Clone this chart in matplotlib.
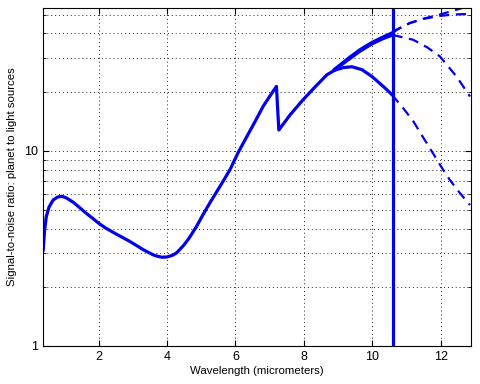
import numpy as np
import matplotlib
matplotlib.use("Agg")
import matplotlib.pyplot as plt
from matplotlib.ticker import LogLocator, NullFormatter, FixedLocator

# shared part of the curve (solid)
wl_main = [0.38, 0.42, 0.47, 0.55, 0.67, 0.8, 0.92, 1.05, 1.26, 1.4, 1.6, 1.8,
           2.0, 2.2, 2.5, 2.7, 2.92, 3.1, 3.3, 3.45, 3.6, 3.7, 3.85, 4.0, 4.15,
           4.28, 4.5, 4.65, 4.86, 5.05, 5.25, 5.6, 5.84, 6.08, 6.33, 6.6, 6.81,
           7.0, 7.2, 7.27, 7.6, 7.98, 8.3, 8.67, 8.9]
snr_main = [3.1, 3.9, 4.6, 5.15, 5.6, 5.8, 5.85, 5.75, 5.45, 5.2, 4.85, 4.55,
            4.26, 4.03, 3.76, 3.6, 3.43, 3.28, 3.12, 3.02, 2.93, 2.89, 2.85, 2.86,
            2.91, 3.0, 3.3, 3.58, 4.09, 4.7, 5.4, 6.8, 8.0, 9.8, 11.8, 14.4, 16.9,
            19.0, 21.4, 12.8, 15.3, 18.3, 21.0, 24.5, 25.9]

# lower branch, solid up to the laser line then dashed
wl_low = [8.9, 9.15, 9.4, 9.7, 10.0, 10.22, 10.4, 10.58]
snr_low = [25.9, 26.7, 27.0, 26.1, 24.0, 22.2, 20.8, 19.4]
wl_low_d = [10.58, 10.90, 11.19, 11.48, 11.77, 12.04, 12.27, 12.56, 12.86]
snr_low_d = [19.4, 16.6, 14.3, 11.8, 9.77, 8.18, 7.10, 6.09, 5.28]

# upper branches, solid up to the laser line
wl_up = [8.9, 9.3, 9.64, 10.0, 10.3, 10.6]
snr_mid = [26.0, 29.3, 32.4, 35.4, 37.5, 39.3]
snr_top = [26.2, 29.8, 33.0, 36.0, 38.2, 40.4]

# dashed continuations after the laser line
wl_mid_d = [10.6, 11.2, 11.6, 11.98, 12.47, 12.86]
snr_mid_d = [39.3, 37.1, 34.0, 30.5, 24.0, 19.0]
wl_top_d = [10.6, 10.72, 11.1, 11.5, 11.98, 12.4, 12.86]
snr_top1_d = [40.4, 41.8, 45.2, 47.5, 49.2, 50.0, 50.4]
snr_top2_d = [40.4, 41.8, 45.2, 47.6, 50.0, 52.5, 55.5]

laser_wl = 10.6

blue = '#0000ee'
plt.rcParams['font.family'] = ['Liberation Sans', 'DejaVu Sans']

fig = plt.figure(figsize=(4.8, 3.84), dpi=100)
ax = fig.add_axes([0.090, 0.099, 0.892, 0.881])

ax.plot(wl_main, snr_main, color=blue, lw=2.3, solid_joinstyle='round')
ax.plot(wl_low, snr_low, color=blue, lw=2.3)
ax.plot(wl_up, snr_mid, color=blue, lw=2.3)
ax.plot(wl_up, snr_top, color=blue, lw=2.3)
dash = (0, (4.5, 3))
ax.plot(wl_low_d, snr_low_d, color=blue, lw=1.6, ls=dash)
ax.plot(wl_mid_d, snr_mid_d, color=blue, lw=1.6, ls=dash)
ax.plot(wl_top_d, snr_top1_d, color=blue, lw=1.6, ls=dash)
ax.plot(wl_top_d, snr_top2_d, color=blue, lw=1.6, ls=dash)
ax.axvline(laser_wl, color=blue, lw=2.3)

ax.set_yscale('log')
ax.set_xlim(0.38, 12.9)
ax.set_ylim(1, 54.2)
ax.set_xticks([2, 4, 6, 8, 10, 12])
ax.yaxis.set_major_locator(FixedLocator([1, 10]))
ax.set_yticklabels(['1', '10'])
ax.yaxis.set_minor_locator(LogLocator(base=10, subs=np.arange(2, 10)))
ax.yaxis.set_minor_formatter(NullFormatter())

ax.grid(True, which='major', color='0.15', ls=(0, (1, 3)), lw=0.7)
ax.grid(True, which='minor', axis='y', color='0.15', ls=(0, (1, 3)), lw=0.7)

ax.tick_params(which='both', direction='in', top=True, right=True, labelsize=9)
ax.tick_params(which='major', length=4)
ax.tick_params(which='minor', length=2)
for s in ax.spines.values():
    s.set_linewidth(0.8)

ax.set_xlabel('Wavelength (micrometers)', fontsize=8.2, labelpad=2)
ax.set_ylabel('Signal-to-noise ratio: planet to light sources', fontsize=8.2, labelpad=5)

fig.savefig('out.png', dpi=100)
